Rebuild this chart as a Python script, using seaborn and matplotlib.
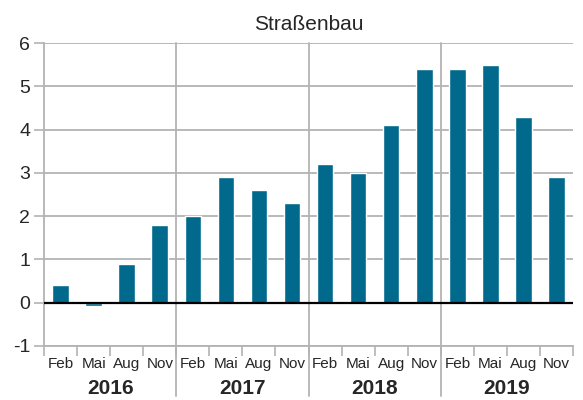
import matplotlib
matplotlib.use("Agg")
import matplotlib.pyplot as plt
import matplotlib.transforms as mtransforms
import numpy as np
import pandas as pd
import seaborn as sns

# data
years = ["2016", "2017", "2018", "2019"]
months = ["Feb", "Mai", "Aug", "Nov"]
values = [0.4, -0.08, 0.9, 1.8,
          2.0, 2.9, 2.6, 2.3,
          3.2, 3.0, 4.1, 5.4,
          5.4, 5.5, 4.3, 2.9]
title = "Straßenbau"

bar_color = "#00698c"
grid_color = "#b3b3b3"

sns.set_style("white")
plt.rcParams["font.family"] = ["Liberation Sans", "DejaVu Sans"]

periods = [f"{y} {m}" for y in years for m in months]
df = pd.DataFrame({"period": periods, "value": values})

fig = plt.figure(figsize=(5.83, 4.0), dpi=100)
ax = fig.add_axes([0.0755, 0.135, 0.9075, 0.7575])

sns.barplot(data=df, x="period", y="value", color=bar_color, width=0.5,
            saturation=1, ax=ax, zorder=3)

n = len(periods)
ax.set_xlim(-0.5, n - 0.5)
ax.set_ylim(-1, 6)
ax.set_yticks(range(-1, 7))
ax.set_yticklabels([str(v) for v in range(-1, 7)], fontsize=14)
ax.yaxis.grid(True, color=grid_color, lw=1.3, zorder=0)

# month labels at bar centres, boundary ticks as minor ticks
ax.set_xticks(np.arange(n))
ax.set_xticklabels(months * len(years), fontsize=11)
ax.set_xticks(np.arange(-0.5, n, 1), minor=True)
ax.tick_params(axis="x", which="major", length=0, pad=8)
ax.tick_params(axis="x", which="minor", length=7, width=1.2, color=grid_color, bottom=True)
ax.tick_params(axis="y", length=7, width=1.2, color=grid_color, left=True, pad=3)
ax.set_xlabel("")
ax.set_ylabel("")

for s in ["top", "right"]:
    ax.spines[s].set_visible(False)
for s in ["left", "bottom"]:
    ax.spines[s].set_color(grid_color)
    ax.spines[s].set_linewidth(1.3)

ax.axhline(0, color="black", lw=1.6, zorder=4)

# year separators extending below the axis
trans = mtransforms.blended_transform_factory(ax.transData, ax.transAxes)
for i in range(1, len(years)):
    xpos = i * len(months) - 0.5
    ax.plot([xpos, xpos], [-0.165, 1], color=grid_color, lw=1.3,
            transform=trans, clip_on=False, zorder=1)

# year labels
for i, y in enumerate(years):
    xc = i * len(months) + (len(months) - 1) / 2
    ax.text(xc, -0.14, y, transform=trans, ha="center", va="center",
            fontsize=15, fontweight="bold")

ax.set_title(title, fontsize=15, pad=9)

fig.savefig("out.png", dpi=100)
